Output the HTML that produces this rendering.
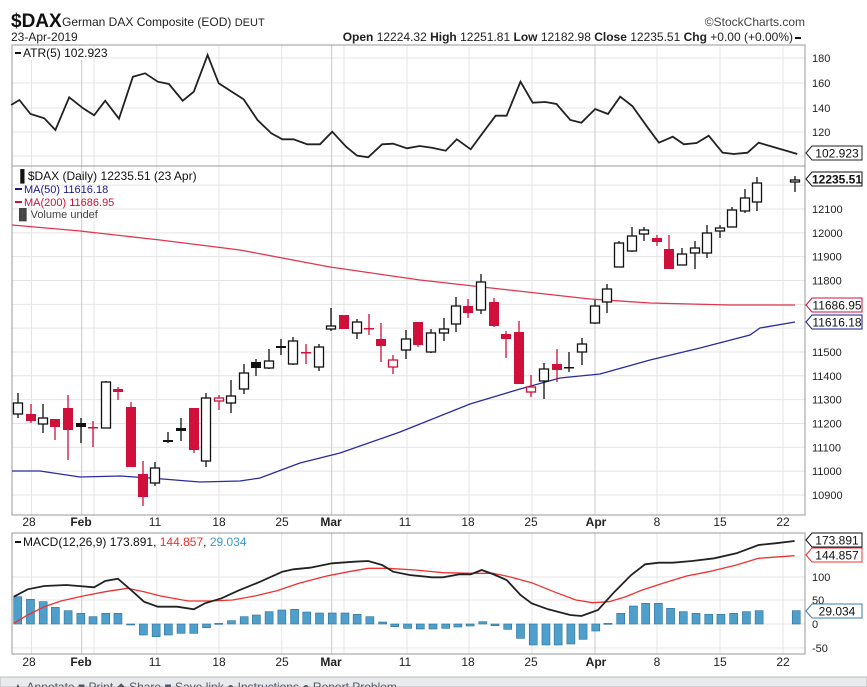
<!DOCTYPE html>
<html><head><meta charset="utf-8"><style>
body{margin:0;background:#fff;width:867px;height:687px;overflow:hidden;font-family:"Liberation Sans",sans-serif}
svg{position:absolute;left:0;top:0}
</style></head><body>
<svg id="s" width="867" height="687" xmlns="http://www.w3.org/2000/svg" font-family="Liberation Sans, sans-serif">
<text x="11" y="27" font-size="19" font-weight="bold" fill="#111">$DAX</text>
<text x="62" y="26" font-size="12" fill="#222">German DAX Composite (EOD) <tspan font-size="11">DEUT</tspan></text>
<text x="805" y="26" font-size="12" fill="#444" text-anchor="end">©StockCharts.com</text>
<text x="11" y="41" font-size="12" fill="#222">23-Apr-2019</text>
<text x="793" y="41" font-size="12" fill="#222" text-anchor="end"><tspan font-weight="bold">Open</tspan> 12224.32 <tspan font-weight="bold">High</tspan> 12251.81 <tspan font-weight="bold">Low</tspan> 12182.98 <tspan font-weight="bold">Close</tspan> 12235.51 <tspan font-weight="bold">Chg</tspan> +0.00 (+0.00%)</text>
<rect x="795" y="37" width="6" height="2" fill="#111"/>
<g id="g"></g>
</svg>
<script>
const NS="http://www.w3.org/2000/svg",g=document.getElementById('g');
function el(t,a,txt){const e=document.createElementNS(NS,t);for(const k in a)e.setAttribute(k,a[k]);if(txt!==undefined)e.textContent=txt;g.appendChild(e);return e;}
const L=12,R=805,SX=1.806;
const vx=[31.5,94,156.7,219,281.7,344,407,469,532,657,720,783],mx=[81.7,331.7,595];
function grid(t,b,hy){hy.forEach(y=>el('line',{x1:L,x2:R,y1:y,y2:y,stroke:'#e4e4e4'}));
vx.forEach(x=>el('line',{x1:x,x2:x,y1:t,y2:b,stroke:'#e4e4e4'}));mx.forEach(x=>el('line',{x1:x,x2:x,y1:t,y2:b,stroke:'#c8c8c8'}));
el('rect',{x:L,y:t,width:R-L,height:b-t,fill:'none',stroke:'#999'});}
// ATR panel
grid(45,166,[58,83,108,132,156]);
[[180,58],[160,83],[140,108],[120,132]].forEach(a=>el('text',{x:812,y:a[1]+4,'font-size':11,fill:'#222'},a[0]));
const atr=[[20,195],[35,180],[55,222],[80,235],[100,270],[125,172],[150,205],[170,226],[190,182],[215,236],[240,110],[262,100],[285,125],[305,132],[330,182],[350,155],[375,45],[395,130],[420,157],[440,178],[465,240],[490,280],[510,298],[530,298],[555,313],[578,313],[600,275],[625,320],[645,347],[665,352],[690,313],[710,311],[735,325],[758,318],[780,323],[805,332],[825,298],[850,328],[870,283],[895,227],[915,227],[940,125],[962,188],[985,186],[1005,192],[1030,240],[1050,248],[1075,207],[1098,222],[1120,170],[1142,198],[1170,263],[1190,308],[1215,290],[1235,313],[1258,309],[1280,287],[1305,338],[1325,342],[1350,338],[1370,308],[1395,320],[1420,332],[1440,342]];
el('polyline',{points:atr.map(p=>[(p[0]/SX).toFixed(1),(40+p[1]/3).toFixed(1)].join(',')).join(' '),fill:'none',stroke:'#222','stroke-width':1.8});
el('rect',{x:13,y:46,width:75,height:14,fill:'#fff'});
el('rect',{x:15,y:52,width:6,height:2,fill:'#111'});
el('text',{x:23,y:57,'font-size':12,fill:'#111'},'ATR(5) 102.923');
function tag(y,txt,col,bold){el('path',{d:`M806 ${y} L812 ${y-7} L862 ${y-7} L862 ${y+7} L812 ${y+7} Z`,fill:'#fff',stroke:col});
el('text',{x:837,y:y+4.5,'font-size':12,'font-weight':bold?'bold':'normal',fill:'#111','text-anchor':'middle'},txt);}
tag(153,'102.923','#222');
// Price panel
const py=v=>209+(12100-v)*0.2383;
const hl=[];for(let v=10900;v<=12200;v+=100)hl.push(py(v));
grid(166,515,hl);
for(let v=10900;v<=12200;v+=100){if(v==11600||v==11700||v==12200)continue;el('text',{x:812,y:py(v)+4,'font-size':11,fill:'#222'},v);}
el('polyline',{points:'12,225 80,231 160,240 240,250 330,267 420,280 500,289 590,299 650,303 730,305 795,305',fill:'none',stroke:'#e0364f','stroke-width':1.3});
el('polyline',{points:'12,471 40,471 80,477 120,476 150,478 200,482 240,481 260,478 300,463 340,453 400,432 470,404 520,389 560,378 600,374 650,360 700,348 750,335 760,328 795,322',fill:'none',stroke:'#2a2aa0','stroke-width':1.3});
const C=[[18,403,414,393,418,'h'],[31,414,421,404,423,'r'],[43,418,424,404,433,'h'],[55,419,427,419,440,'r'],[68,408,430,395,460,'r'],[81,423,427,418,443,'b'],[93,427,428,421,447,'r'],[106,382,428,381,428,'h'],[118,389,392,387,400,'r'],[131,407,467,402,467,'r'],[143,474,497,461,506,'r'],[155,468,483,462,486,'h'],[168,440,442,432,443,'b'],[181,428,431,418,441,'b'],[194,408,450,408,453,'r'],[206,398,461,393,467,'h'],[219,398,401,395,410,'rh'],[231,396,403,380,413,'h'],[244,373,389,364,394,'h'],[256,362,368,359,376,'b'],[269,361,368,349,369,'h'],[281,346,348,339,355,'b'],[293,341,364,337,365,'h'],[306,352,353,344,364,'r'],[319,347,367,344,371,'h'],[331,326,329,308,331,'h'],[344,315,329,315,329,'r'],[357,322,333,319,339,'h'],[369,328,329,314,335,'r'],[381,339,346,323,362,'r'],[393,360,367,355,374,'rh'],[406,339,350,330,359,'h'],[418,322,345,322,347,'r'],[431,333,352,329,353,'h'],[444,329,333,318,341,'h'],[456,306,324,297,332,'h'],[468,306,313,299,318,'r'],[481,282,310,274,314,'h'],[494,302,326,298,327,'r'],[506,334,339,331,358,'r'],[519,332,384,321,384,'r'],[531,387,392,375,397,'rh'],[544,369,381,363,399,'h'],[557,364,370,349,382,'r'],[569,367,368,352,372,'b'],[582,344,352,338,365,'h'],[595,306,323,300,324,'h'],[607,289,302,284,313,'h'],[619,243,267,241,267,'h'],[632,236,251,227,252,'h'],[644,230,234,227,241,'h'],[657,238,242,235,246,'r'],[669,249,269,235,269,'r'],[682,254,265,248,265,'h'],[695,248,253,241,269,'h'],[707,233,253,225,258,'h'],[720,228,231,225,238,'h'],[732,210,227,207,227,'h'],[745,198,211,189,213,'h'],[757,183,202,177,211,'h'],[795,180,182,176,192,'h']];
C.forEach(c=>{const[x,t,b,wt,wb,k]=c;const col=(k[0]=='r')?'#d0103a':'#111';
el('line',{x1:x,x2:x,y1:wt,y2:wb,stroke:col,'stroke-width':1.3});
const h=Math.max(b-t,1.5);
if(k=='h'||k=='rh')el('rect',{x:x-4.5,y:t,width:9,height:h,fill:'#fff',stroke:col,'stroke-width':1.3});
else el('rect',{x:x-5,y:t,width:10,height:h,fill:col});});
el('text',{x:16,y:180,'font-size':12,fill:'#111'},'\u2590 $DAX (Daily) 12235.51 (23 Apr)');
el('rect',{x:15,y:188,width:7,height:2,fill:'#1a1a90'});
el('text',{x:24,y:193,'font-size':11,fill:'#1a1a90'},'MA(50) 11616.18');
el('rect',{x:15,y:201,width:7,height:2,fill:'#d0103a'});
el('text',{x:24,y:206,'font-size':11,fill:'#d0103a'},'MA(200) 11686.95');
el('text',{x:15,y:218,'font-size':11,fill:'#444'},'\u2590\u258cVolume undef');
tag(179,'12235.51','#111',true);tag(305,'11686.95','#d0103a');tag(322,'11616.18','#1a1a90');
function dates(y){[[29,'28'],[81,'Feb',1],[155,'11'],[219,'18'],[282,'25'],[331,'Mar',1],[405,'11'],[468,'18'],[531,'25'],[596,'Apr',1],[657,'8'],[720,'15'],[783,'22']].forEach(d=>el('text',{x:d[0],y:y,'font-size':12,'font-weight':d[2]?'bold':'normal',fill:'#222','text-anchor':'middle'},d[1]));}
dates(526);dates(666);
// MACD panel
grid(533,654,[577,600,624,648]);
[[100,577],[50,600],[0,624],[-50,648]].forEach(a=>el('text',{x:812,y:a[1]+4,'font-size':11,fill:'#222'},a[0]));
const hb=[[32,290],[55,298],[78,305],[100,322],[123,332],[146,340],[168,350],[191,340],[213,340],[236,375],[259,405],[282,410],[304,405],[327,400],[350,400],[373,383],[395,370],[418,362],[441,350],[463,345],[486,335],[509,330],[532,328],[554,336],[577,339],[600,339],[623,339],[645,343],[668,350],[691,366],[713,380],[736,385],[759,387],[782,387],[805,385],[827,381],[849,378],[872,365],[894,377],[917,388],[940,415],[963,435],[986,435],[1008,435],[1031,432],[1053,418],[1076,393],[1098,370],[1121,340],[1144,318],[1166,310],[1189,310],[1211,325],[1234,335],[1257,340],[1280,343],[1302,343],[1325,340],[1348,335],[1371,332],[1438,332]];
hb.forEach(p=>{const x=p[0]/SX,y=500+p[1]/3,t=Math.min(y,624),h=Math.max(Math.abs(y-624),1);el('rect',{x:x-4,y:t,width:8,height:h,fill:'#4f9fcc',stroke:'#2c6f96','stroke-width':0.6});});
const ml=[[25,290],[50,268],[80,258],[120,255],[170,262],[190,243],[213,236],[240,275],[260,305],[285,320],[320,320],[350,328],[370,310],[400,295],[430,272],[470,245],[510,215],[530,208],[560,203],[600,190],[640,185],[665,183],[690,195],[710,215],[740,225],[780,232],[800,232],[830,223],[850,223],[870,210],[890,222],[915,240],[940,285],[960,310],[990,328],[1030,345],[1050,348],[1080,330],[1110,275],[1140,225],[1165,193],[1190,188],[1215,188],[1250,183],[1290,175],[1330,160],[1370,135],[1400,130],[1435,123]];
const sl=[[25,370],[50,345],[80,320],[110,303],[150,288],[190,275],[230,265],[260,275],[290,288],[340,303],[380,303],[420,300],[460,288],[500,272],[540,250],[590,228],[630,215],[665,205],[700,205],[750,210],[800,218],[850,220],[890,220],[920,230],[960,248],[1000,275],[1040,300],[1070,308],[1100,305],[1130,290],[1160,270],[1200,248],[1240,228],[1280,215],[1330,195],[1370,175],[1435,167]];
const pts=a=>a.map(p=>[(p[0]/SX).toFixed(1),(500+p[1]/3).toFixed(1)].join(',')).join(' ');
el('polyline',{points:pts(sl),fill:'none',stroke:'#f03030','stroke-width':1.3});
el('polyline',{points:pts(ml),fill:'none',stroke:'#222','stroke-width':1.8});
el('rect',{x:13,y:534,width:190,height:13,fill:'#fff'});
el('rect',{x:15,y:541,width:6,height:2,fill:'#111'});
const tx=el('text',{x:23,y:546,'font-size':12,fill:'#111'});
tx.innerHTML='MACD(12,26,9) 173.891, <tspan fill="#f03030">144.857</tspan>, <tspan fill="#3a9ad0">29.034</tspan>';
tag(540,'173.891','#111');tag(555,'144.857','#f03030');tag(611,'29.034','#3a7ab0');
el('rect',{x:0,y:677,width:867,height:10,fill:'#e8eaec',stroke:'#bbb'});
el('text',{x:12,y:691,'font-size':12,fill:'#556'},'\u25b2 Annotate    \u25a0 Print    \u25c6 Share    \u25a0 Save link    \u25cf Instructions    \u25cf Report Problem');
</script>
</body></html>
